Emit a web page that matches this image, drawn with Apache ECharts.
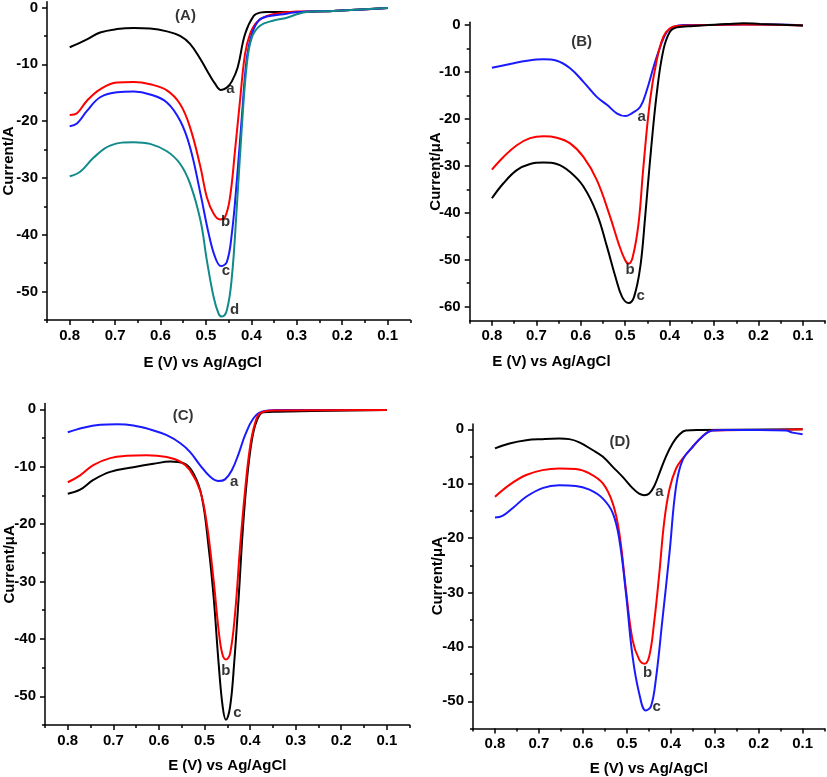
<!DOCTYPE html>
<html><head><meta charset="utf-8">
<script src="https://cdn.jsdelivr.net/npm/echarts@6/dist/echarts.min.js"></script>
<style>html,body{margin:0;padding:0;background:#fff}#c{width:827px;height:777px}</style>
</head><body><div id="c"></div>
<script>
// ---------- tick labels ----------
const xMajor = [0.8, 0.7, 0.6, 0.5, 0.4, 0.3, 0.2, 0.1];
const xMinor = [0.85, 0.75, 0.65, 0.55, 0.45, 0.35, 0.25, 0.15, 0.05];
const yMajor55 = [0, -10, -20, -30, -40, -50];
const yMajor63 = [0, -10, -20, -30, -40, -50, -60];
const yMinor = [-5, -15, -25, -35, -45, -55];

// ---------- Panel A ----------
const EA_a = [0.8,0.762,0.733,0.696,0.659,0.623,0.586,0.557,0.535,0.512,0.494,0.48,0.467,0.454,0.443,0.43,0.414,0.395,0.381,0.366,0.33,0.29,0.22,0.1];
const IA_a = [-7.0,-5.6,-4.4,-3.8,-3.6,-3.7,-4.2,-5.0,-6.4,-9.1,-11.6,-13.4,-14.5,-14.1,-13.0,-10.5,-4.7,-1.5,-0.9,-0.8,-0.8,-0.8,-0.6,-0.1];
const EA_b = [0.8,0.784,0.762,0.733,0.696,0.659,0.623,0.586,0.557,0.535,0.512,0.498,0.483,0.469,0.458,0.447,0.436,0.425,0.414,0.403,0.388,0.366,0.33,0.293,0.22,0.1];
const IA_b = [-18.9,-18.6,-16.4,-14.4,-13.2,-13.1,-13.5,-14.6,-17.0,-21.1,-28.1,-33.4,-36.3,-37.3,-36.9,-33.4,-25.2,-16.4,-8.2,-4.7,-2.6,-1.5,-0.9,-0.7,-0.6,-0.1];
const EA_c = [0.8,0.784,0.762,0.733,0.696,0.659,0.623,0.586,0.557,0.535,0.512,0.494,0.48,0.467,0.454,0.443,0.432,0.421,0.41,0.399,0.384,0.366,0.33,0.307,0.278,0.22,0.1];
const IA_c = [-20.9,-20.4,-18.2,-15.8,-14.9,-14.8,-15.3,-16.7,-19.9,-24.6,-32.8,-39.8,-43.9,-45.5,-44.8,-39.8,-30.5,-19.3,-8.8,-4.7,-2.3,-1.6,-1.2,-0.9,-0.7,-0.6,-0.1];
const EA_d = [0.8,0.777,0.747,0.711,0.659,0.623,0.586,0.557,0.535,0.512,0.498,0.483,0.472,0.465,0.454,0.443,0.432,0.421,0.41,0.399,0.381,0.351,0.322,0.3,0.278,0.22,0.1];
const IA_d = [-29.7,-28.9,-26.4,-24.3,-23.7,-24.0,-25.3,-27.5,-31.0,-37.5,-44.5,-51.0,-53.9,-54.4,-53.3,-47.5,-35.1,-21.1,-10.0,-5.3,-3.2,-2.3,-1.8,-1.2,-0.8,-0.6,-0.1];

// ---------- Panel B ----------
const EB_a = [0.8,0.759,0.721,0.684,0.654,0.624,0.594,0.564,0.541,0.519,0.5,0.485,0.466,0.451,0.436,0.421,0.406,0.391,0.369,0.309,0.234,0.159,0.1];
const IB_a = [-9.1,-8.3,-7.6,-7.3,-7.6,-9.2,-12.1,-15.3,-17.0,-18.8,-19.4,-18.8,-17.4,-13.8,-8.9,-4.6,-1.4,-0.4,0,0,0.1,0.1,-0.1];
const EB_b = [0.8,0.774,0.744,0.714,0.684,0.654,0.624,0.594,0.564,0.534,0.515,0.5,0.492,0.483,0.47,0.459,0.444,0.429,0.414,0.399,0.384,0.309,0.234,0.1];
const IB_b = [-30.8,-28.1,-25.6,-24.1,-23.7,-24.0,-25.2,-28.1,-33.0,-40.8,-46.5,-50.1,-50.8,-49.4,-42.3,-30.2,-16.0,-7.5,-2.5,-0.7,-0.2,0,0.1,-0.1];
const EB_c = [0.8,0.774,0.744,0.714,0.684,0.654,0.624,0.594,0.564,0.541,0.522,0.507,0.492,0.48,0.466,0.455,0.444,0.429,0.414,0.399,0.384,0.346,0.271,0.234,0.196,0.1];
const IB_c = [-36.9,-33.7,-30.9,-29.6,-29.3,-29.6,-31.3,-34.4,-40.1,-47.2,-53.6,-57.9,-59.2,-57.9,-51.5,-40.8,-28.8,-14.6,-5.3,-1.4,-0.5,-0.2,0.2,0.4,0.2,-0.1];

// ---------- Panel C ----------
const EC_a = [0.8,0.766,0.729,0.692,0.656,0.619,0.583,0.553,0.532,0.51,0.488,0.469,0.455,0.44,0.425,0.411,0.393,0.374,0.341,0.1];
const IC_a = [-4.0,-3.2,-2.7,-2.6,-2.8,-3.5,-4.5,-5.9,-7.4,-9.7,-11.7,-12.5,-12.2,-10.6,-7.7,-4.5,-1.6,-0.4,-0.1,-0.1];
const EC_b = [0.8,0.773,0.744,0.707,0.671,0.627,0.583,0.553,0.532,0.51,0.495,0.48,0.469,0.461,0.453,0.444,0.433,0.422,0.411,0.4,0.389,0.378,0.349,0.1];
const IC_b = [-12.7,-11.5,-9.7,-8.5,-8.1,-8.0,-8.3,-9.1,-10.6,-14.1,-19.9,-29.8,-38.5,-42.6,-43.6,-42.6,-35.6,-24.0,-14.1,-6.5,-2.4,-0.7,-0.2,-0.1];
const EC_c = [0.8,0.773,0.744,0.707,0.656,0.612,0.575,0.546,0.524,0.506,0.491,0.48,0.469,0.46,0.453,0.444,0.435,0.425,0.416,0.407,0.396,0.385,0.371,0.341,0.1];
const IC_c = [-14.7,-14.0,-12.3,-10.9,-10.1,-9.5,-9.1,-9.4,-11.2,-15.2,-24.0,-32.7,-44.3,-51.9,-54.1,-51.9,-44.3,-32.7,-21.0,-12.3,-5.3,-1.9,-0.5,-0.4,-0.1];

// ---------- Panel D ----------
const ED_a = [0.8,0.767,0.729,0.692,0.654,0.631,0.608,0.578,0.555,0.532,0.51,0.487,0.472,0.46,0.449,0.438,0.426,0.411,0.396,0.381,0.366,0.335,0.1];
const ID_a = [-3.5,-2.6,-2.0,-1.8,-1.7,-1.8,-2.4,-3.8,-5.0,-6.9,-8.7,-10.8,-11.8,-12.1,-11.8,-10.5,-8.1,-5.0,-2.6,-1.0,-0.2,-0.1,0];
const ED_b = [0.8,0.767,0.729,0.692,0.654,0.616,0.585,0.555,0.532,0.517,0.502,0.487,0.472,0.46,0.449,0.438,0.426,0.415,0.403,0.388,0.373,0.35,0.328,0.305,0.237,0.161,0.1];
const ID_b = [-12.4,-10.2,-8.4,-7.5,-7.2,-7.3,-8.1,-9.9,-13.6,-19.1,-29.5,-38.7,-42.3,-43.1,-41.7,-35.6,-26.4,-17.0,-11.0,-7.2,-5.4,-3.2,-1.3,-0.2,-0.1,-0.1,0];
const ED_c = [0.8,0.783,0.76,0.729,0.692,0.654,0.616,0.585,0.555,0.532,0.517,0.502,0.487,0.472,0.457,0.445,0.434,0.419,0.403,0.388,0.373,0.35,0.328,0.305,0.275,0.199,0.138,0.123,0.1];
const ID_c = [-16.2,-15.9,-14.5,-12.4,-10.8,-10.3,-10.4,-11.1,-12.7,-15.4,-20.3,-30.1,-41.7,-48.5,-51.7,-50.9,-46.0,-35.0,-22.8,-10.5,-5.6,-3.2,-1.3,-0.2,-0.1,-0.1,-0.2,-0.6,-0.9];

// ---------- annotations (text, E, I) ----------
const labA = [['(A)',0.545,-1.5],['a',0.446,-14.3],['b',0.457,-37.8],['c',0.456,-46.4],['d',0.437,-53.2]];
const labB = [['(B)',0.598,-3.6],['a',0.463,-19.5],['b',0.489,-52.2],['c',0.465,-57.7]];
const labC = [['(C)',0.547,-1.2],['a',0.435,-12.6],['b',0.453,-45.5],['c',0.428,-52.9]];
const labD = [['(D)',0.516,-2.3],['a',0.426,-11.5],['b',0.453,-44.7],['c',0.432,-51.0]];

// ---------- styling / layout ----------
const FONT = '"Liberation Sans", Arial, Helvetica, sans-serif';
const BLACK = '#000000', RED = '#ff0000', BLUE = '#1a1aff', TEAL = '#138a8a';

const panels = [
  { grid:{left:46.3, top:1, width:364, height:319}, yMin:-55, yMax:1, yMajor:yMajor55,
    yName:'Current/A', yGap:31, xGap:35, xShift:52, labels:labA,
    curves:[[EA_a,IA_a,BLACK],[EA_b,IA_b,RED],[EA_c,IA_c,BLUE],[EA_d,IA_d,TEAL]] },
  { grid:{left:469.7, top:22.2, width:355.4, height:298.6}, yMin:-63, yMax:0.6, yMajor:yMajor63,
    yName:'Current/\u03bcA', yGap:26, xGap:34, xShift:192, labels:labB,
    curves:[[EB_a,IB_a,BLUE],[EB_b,IB_b,RED],[EB_c,IB_c,BLACK]] },
  { grid:{left:45, top:403.6, width:364.6, height:321.4}, yMin:-55, yMax:1, yMajor:yMajor55,
    yName:'Current/\u03bcA', yGap:28, xGap:33.5, xShift:0, labels:labC,
    curves:[[EC_a,IC_a,BLUE],[EC_c,IC_c,BLACK],[EC_b,IC_b,RED]] },
  { grid:{left:473, top:423.9, width:351.6, height:305.1}, yMin:-55, yMax:1, yMajor:yMajor55,
    yName:'Current/\u03bcA', yGap:28, xGap:32.5, xShift:0, labels:labD,
    curves:[[ED_a,ID_a,BLACK],[ED_b,ID_b,RED],[ED_c,ID_c,BLUE]] }
];

const txt = {color:'#000', fontFamily:FONT, fontWeight:'bold', fontSize:15};
const tickLine = {color:'#000', width:1.5};
const option = {animation:false, backgroundColor:'#fff', grid:[], xAxis:[], yAxis:[], series:[]};

panels.forEach((p, i) => {
  option.grid.push(Object.assign({containLabel:false}, p.grid));
  option.xAxis.push({gridIndex:i, type:'value', inverse:true, min:0.05, max:0.85, position:'bottom',
    axisLine:{show:true, onZero:false, lineStyle:tickLine},
    axisTick:{show:true, length:5, customValues:xMajor, lineStyle:tickLine},
    axisLabel:Object.assign({show:true, customValues:xMajor, margin:8, formatter:v => v.toFixed(1)}, txt),
    splitLine:{show:false},
    name:'E (V) vs Ag/AgCl', nameLocation:'middle', nameGap:p.xGap, nameMoveOverlap:false,
    nameTextStyle:Object.assign({padding:[0, p.xShift, 0, 0]}, txt)});
  option.xAxis.push({gridIndex:i, type:'value', inverse:true, min:0.05, max:0.85, position:'bottom',
    axisLine:{show:false, onZero:false},
    axisTick:{show:true, length:3, customValues:xMinor, lineStyle:tickLine},
    axisLabel:{show:false}, splitLine:{show:false}});
  option.yAxis.push({gridIndex:i, type:'value', min:p.yMin, max:p.yMax, position:'left',
    axisLine:{show:true, onZero:false, lineStyle:tickLine},
    axisTick:{show:true, length:5, customValues:p.yMajor, lineStyle:tickLine},
    axisLabel:Object.assign({show:true, customValues:p.yMajor, margin:9, formatter:v => String(v)}, txt),
    splitLine:{show:false},
    name:p.yName, nameLocation:'middle', nameGap:p.yGap, nameMoveOverlap:false, nameTextStyle:txt});
  option.yAxis.push({gridIndex:i, type:'value', min:p.yMin, max:p.yMax, position:'left',
    axisLine:{show:false, onZero:false},
    axisTick:{show:true, length:3, customValues:yMinor, lineStyle:tickLine},
    axisLabel:{show:false}, splitLine:{show:false}});

  p.curves.forEach(([E, I, col]) => {
    option.series.push({type:'line', xAxisIndex:2*i, yAxisIndex:2*i,
      data:E.map((e, k) => [e, I[k]]), showSymbol:false, smooth:0.4,
      lineStyle:{color:col, width:2}, itemStyle:{color:col}, silent:true});
  });
  option.series.push({type:'scatter', xAxisIndex:2*i, yAxisIndex:2*i, symbolSize:1, silent:true,
    itemStyle:{color:'rgba(0,0,0,0)'}, z:10,
    label:Object.assign({show:true, position:'inside', formatter:'{b}'}, txt),
    data:p.labels.map(l => ({name:l[0], value:[l[1], l[2]]}))});
});

const chart = echarts.init(document.getElementById('c'), null, {renderer:'canvas'});
chart.setOption(option);
</script>
</body></html>
